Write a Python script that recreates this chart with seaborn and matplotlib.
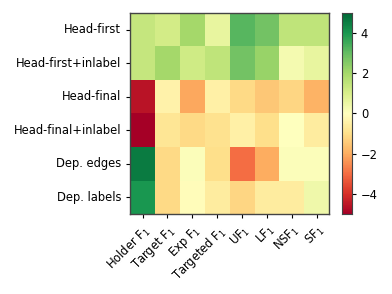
import numpy as np
import pandas as pd
import seaborn as sns
import matplotlib
matplotlib.use('Agg')
import matplotlib.pyplot as plt

# row / column labels
rows = ['Head-first', 'Head-first+inlabel', 'Head-final', 'Head-final+inlabel',
        'Dep. edges', 'Dep. labels']
cols = ['Holder F$_1$', 'Target F$_1$', 'Exp F$_1$', 'Targeted F$_1$',
        'UF$_1$', 'LF$_1$', 'NSF$_1$', 'SF$_1$']

# differences per row
head_first = [1.4, 1.1, 2.0, 0.6, 3.2, 2.8, 1.5, 1.5]
head_first_inlabel = [1.4, 2.0, 1.2, 1.5, 2.8, 2.2, 0.3, 0.6]
head_final = [-4.6, -0.4, -2.1, -0.5, -1.1, -1.5, -1.2, -1.9]
head_final_inlabel = [-5.0, -0.8, -1.1, -0.9, -0.5, -1.0, 0.0, -0.6]
dep_edges = [4.6, -1.1, 0.1, -1.0, -3.0, -2.0, 0.1, 0.1]
dep_labels = [4.0, -1.1, -0.1, -0.6, -1.2, -0.6, -0.6, 0.4]

df = pd.DataFrame([head_first, head_first_inlabel, head_final, head_final_inlabel,
                   dep_edges, dep_labels], index=rows, columns=cols)

sns.set_style('white')
plt.rcParams['font.family'] = ['DejaVu Sans']
plt.rcParams['text.color'] = 'black'
plt.rcParams['xtick.color'] = 'black'
plt.rcParams['ytick.color'] = 'black'

fig = plt.figure(figsize=(3.92, 2.94), dpi=100)
ax = fig.add_axes([0.332, 0.272, 0.508, 0.684])
cax = fig.add_axes([0.872, 0.272, 0.0255, 0.684])

sns.heatmap(df, ax=ax, cbar_ax=cax, cmap='RdYlGn', vmin=-5, vmax=5)

fs = 8.3
ax.set_xticklabels(cols, rotation=45, ha='right', rotation_mode='anchor', fontsize=fs)
ax.set_yticklabels(rows, rotation=0, fontsize=fs)
ax.tick_params(axis='both', length=3, colors='black', bottom=True, left=True)
for s in ax.spines.values():
    s.set_visible(True)
    s.set_color('#444444')
    s.set_linewidth(1.0)

cax.set_yticks([-4, -2, 0, 2, 4])
cax.tick_params(labelsize=fs, length=3, colors='black', right=True)
for s in cax.spines.values():
    s.set_visible(True)
    s.set_color('#444444')

fig.savefig('out.png', dpi=100)
